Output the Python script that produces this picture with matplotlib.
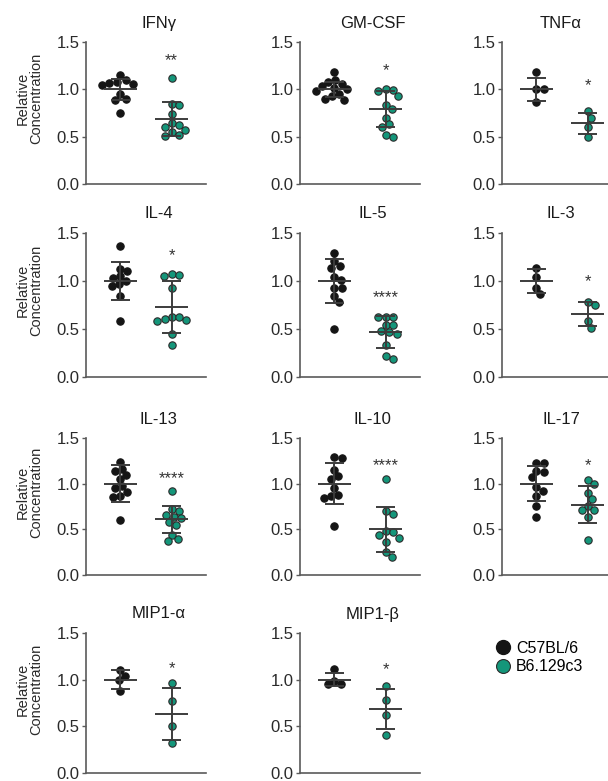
import numpy as np
import matplotlib
matplotlib.use('Agg')
import matplotlib.pyplot as plt
from matplotlib.lines import Line2D

plt.rcParams['font.family'] = ['Liberation Sans', 'DejaVu Sans']

# ---- data (relative concentration) ----
cytokines = ['IFNγ', 'GM-CSF', 'TNFα', 'IL-4', 'IL-5', 'IL-3',
             'IL-13', 'IL-10', 'IL-17', 'MIP1-α', 'MIP1-β']
group_names = ['C57BL/6', 'B6.129c3']

ifng_b6 = [1.15, 1.10, 1.08, 1.07, 1.06, 1.05, 0.95, 0.90, 0.89, 0.75]
ifng_129 = [1.12, 0.84, 0.83, 0.74, 0.64, 0.62, 0.60, 0.57, 0.55, 0.52, 0.51]
gmcsf_b6 = [1.18, 1.10, 1.08, 1.06, 1.03, 1.01, 1.00, 0.98, 0.95, 0.93, 0.90, 0.89]
gmcsf_129 = [1.00, 0.99, 0.98, 0.93, 0.83, 0.79, 0.70, 0.63, 0.60, 0.52, 0.50]
tnfa_b6 = [1.18, 1.00, 1.00, 0.87]
tnfa_129 = [0.77, 0.70, 0.60, 0.50]
il4_b6 = [1.36, 1.13, 1.10, 1.05, 1.03, 1.00, 0.97, 0.95, 0.84, 0.58]
il4_129 = [1.07, 1.06, 1.05, 0.93, 0.63, 0.63, 0.60, 0.59, 0.58, 0.45, 0.33]
il5_b6 = [1.29, 1.21, 1.16, 1.14, 1.04, 1.01, 0.93, 0.93, 0.84, 0.78, 0.50]
il5_129 = [0.63, 0.62, 0.62, 0.54, 0.54, 0.48, 0.47, 0.45, 0.33, 0.22, 0.19]
il3_b6 = [1.14, 1.04, 0.93, 0.86]
il3_129 = [0.78, 0.75, 0.58, 0.51]
il13_b6 = [1.24, 1.16, 1.14, 1.09, 1.05, 0.97, 0.95, 0.91, 0.87, 0.85, 0.60]
il13_129 = [0.92, 0.72, 0.70, 0.66, 0.64, 0.62, 0.58, 0.55, 0.44, 0.39, 0.37]
il10_b6 = [1.29, 1.28, 1.15, 1.08, 1.05, 0.95, 0.88, 0.86, 0.84, 0.54]
il10_129 = [1.05, 0.70, 0.67, 0.48, 0.47, 0.44, 0.41, 0.36, 0.25, 0.20]
il17_b6 = [1.23, 1.23, 1.14, 1.13, 1.07, 0.96, 0.92, 0.86, 0.76, 0.64]
il17_129 = [1.04, 1.00, 0.90, 0.83, 0.76, 0.71, 0.71, 0.64, 0.38]
mip1a_b6 = [1.10, 1.04, 1.00, 0.88]
mip1a_129 = [0.96, 0.77, 0.50, 0.32]
mip1b_b6 = [1.11, 0.99, 0.95, 0.95]
mip1b_129 = [0.93, 0.78, 0.62, 0.41]

b6_points = [ifng_b6, gmcsf_b6, tnfa_b6, il4_b6, il5_b6, il3_b6,
             il13_b6, il10_b6, il17_b6, mip1a_b6, mip1b_b6]
ko_points = [ifng_129, gmcsf_129, tnfa_129, il4_129, il5_129, il3_129,
             il13_129, il10_129, il17_129, mip1a_129, mip1b_129]

b6_mean = [1.00, 1.00, 1.00, 1.00, 1.00, 1.00, 1.00, 1.00, 1.00, 1.00, 1.00]
b6_sd = [0.11, 0.08, 0.12, 0.20, 0.23, 0.12, 0.20, 0.225, 0.195, 0.10, 0.07]
ko_mean = [0.69, 0.79, 0.64, 0.73, 0.47, 0.66, 0.61, 0.50, 0.77, 0.63, 0.685]
ko_sd = [0.18, 0.19, 0.115, 0.27, 0.165, 0.125, 0.15, 0.245, 0.20, 0.28, 0.215]

stars = ['**', '*', '*', '*', '****', '*', '****', '****', '*', '*', '*']
star_y = [1.30, 1.20, 1.04, 1.26, 0.83, 0.99, 1.06, 1.20, 1.20, 1.12, 1.11]

# ---- layout (pixels in a 608x781 image) ----
W, H = 608, 781
col_left = [86, 300, 502]
row_top = [42, 233, 438, 633]
row_bot = [184, 377, 575, 773]
ax_w = 120
title_x = [2.12, 2.12, 1.72]
black = '#151515'
teal = '#14967a'
line_col = '#3c3c3c'
spine_col = '#5a5a5a'
dot_px = 7.6


def swarm(vals, ppu_x, ppu_y, d):
    """beeswarm offsets (data units along x) so the dots do not overlap"""
    vals = np.asarray(vals, dtype=float)
    offs = np.zeros(len(vals))
    placed = []
    for i in np.argsort(-vals):
        y = vals[i] * ppu_y
        cands = [0.0]
        for xo, yo in placed:
            dy = y - yo
            if abs(dy) < d:
                dx = np.sqrt(d * d - dy * dy)
                cands += [xo + dx, xo - dx]
        cands.sort(key=abs)
        for c in cands:
            if all((c - xo) ** 2 + (y - yo) ** 2 >= d * d - 1e-6 for xo, yo in placed):
                break
        placed.append((c, y))
        offs[i] = c / ppu_x
    return offs


fig = plt.figure(figsize=(W / 100, H / 100), dpi=100)

for k, name in enumerate(cytokines):
    r, c = divmod(k, 3)
    left = col_left[c] / W
    bottom = 1 - row_bot[r] / H
    h = (row_bot[r] - row_top[r]) / H
    ax = fig.add_axes([left, bottom, ax_w / W, h])
    ax.set_xlim(0, 3.5)
    ax.set_ylim(0, 1.5)
    ppu_x = ax_w / 3.5
    ppu_y = (row_bot[r] - row_top[r]) / 1.5

    for xc, pts, m, s, fc, ec in [(1.0, b6_points[k], b6_mean[k], b6_sd[k], black, black),
                                  (2.5, ko_points[k], ko_mean[k], ko_sd[k], teal, '#2b2b2b')]:
        xs = xc + swarm(pts, ppu_x, ppu_y, dot_px)
        ax.plot(xs, pts, 'o', ms=5.3, mfc=fc, mec=ec, mew=0.8,
                clip_on=False, zorder=2)
        ax.hlines(m, xc - 0.48, xc + 0.48, color=line_col, lw=1.4, zorder=3)
        ax.hlines([m - s, m + s], xc - 0.27, xc + 0.27, color=line_col, lw=1.4, zorder=3)
        ax.vlines(xc, m - s, m + s, color=line_col, lw=1.4, zorder=3)

    ax.text(2.5, star_y[k], stars[k], ha='center', va='center',
            fontsize=12, color='#333333')
    ax.text(title_x[c], 1.5 + 19 / ppu_y, name, ha='center', va='center',
            fontsize=12, color='#1a1a1a')

    for sp in ['top', 'right']:
        ax.spines[sp].set_visible(False)
    for sp in ['left', 'bottom']:
        ax.spines[sp].set_color(spine_col)
        ax.spines[sp].set_linewidth(1.2)
    ax.set_yticks([0, 0.5, 1.0, 1.5])
    ax.set_yticklabels(['0.0', '0.5', '1.0', '1.5'])
    ax.set_xticks([])
    ax.tick_params(axis='y', length=3, width=1, pad=1.5, colors=spine_col,
                   labelcolor='#2a2a2a', labelsize=12)
    if c == 0:
        ax.text(-0.47, 0.6, 'Relative\nConcentration', transform=ax.transAxes,
                rotation=90, ha='center', va='center', fontsize=10.5,
                color='#2a2a2a', linespacing=1.0)

handles = [Line2D([], [], ls='', marker='o', ms=10, mfc=black, mec=black),
           Line2D([], [], ls='', marker='o', ms=10, mfc=teal, mec='#2b2b2b', mew=0.8)]
fig.legend(handles, group_names, loc='upper left', bbox_to_anchor=(497 / W, 1 - 641 / H),
           frameon=False, fontsize=11.5, handlelength=0.8, handletextpad=0.4,
           borderpad=0, borderaxespad=0, labelspacing=0.2)

fig.savefig('out.png', dpi=100)
